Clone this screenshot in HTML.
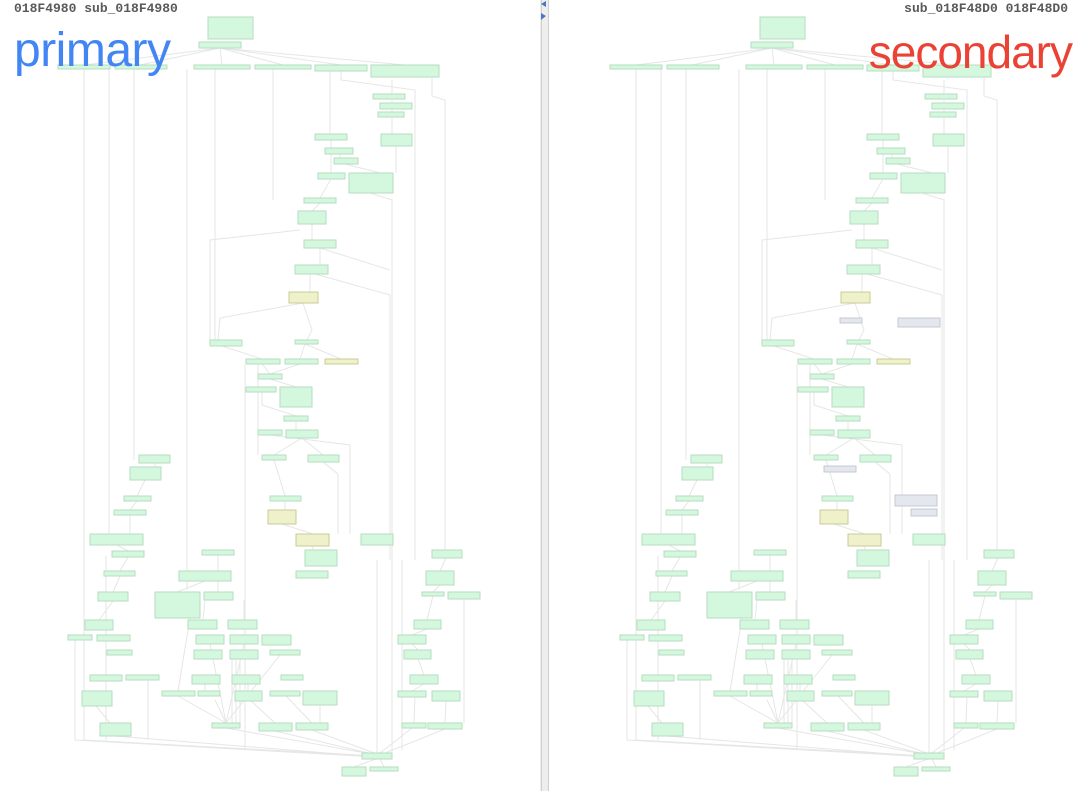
<!DOCTYPE html>
<html><head><meta charset="utf-8"><style>
html,body{margin:0;padding:0;background:#fff;width:1080px;height:791px;overflow:hidden}
.h{position:absolute;font-family:"Liberation Mono",monospace;font-weight:bold;font-size:13px;color:#5a5a5a;top:1px}
.big{position:absolute;font-family:"Liberation Sans",sans-serif;font-size:48px;top:23px;letter-spacing:-0.5px}
</style></head><body>
<svg width="1080" height="791" style="position:absolute;left:0;top:0">
<defs>
<g id="G">
<g stroke="#e6e6e6" stroke-width="1" fill="none">
<path d="M220 48 L84 65 M220 48 L140 65 M220 48 L222 65 M220 48 L283 65 M220 48 L341 65 M220 48 L405 65"/>
<path d="M84 69 V740 L377 756"/>
<path d="M109 69 V540 M134 69 L134 460 M187 69 V590 M215 69 V340"/>
<path d="M273 69 V200 M330 69 L330 134 M341 70 V80 L415 90 L415 560 M432 77 V96 L445 100 V550"/>
<path d="M392 80 V94 M392 100 V134 M396 146 V173 M370 193 L392 200 L392 755"/>
<path d="M331 140 L331 173 M340 154 L340 164 M345 164 L380 173 M331 179 L320 198 M320 203 L312 211 M312 224 V240 M320 248 V265 M310 274 V292"/>
<path d="M320 248 L390 270 M315 274 L390 295 L390 560"/>
<path d="M303 303 L220 318 L218 340 M303 303 L312 330 L307 340 M300 230 L210 240 L210 340"/>
<path d="M222 346 L262 359 M305 344 L300 359 M305 344 L341 359 M262 364 L270 374 M300 364 L270 374 M262 387 V405 L296 416 M270 379 L296 387"/>
<path d="M296 421 V430 M270 435 L350 445 L350 534 M302 438 L274 455 M302 438 L323 455 M323 462 L338 474 V534"/>
<path d="M245 365 V750 M258 360 L258 455 M274 460 L285 496 M285 501 V510 M282 524 L313 534 M313 546 V550"/>
<path d="M155 463 V467 M145 480 L137 496 M137 501 L130 510 M130 515 V534 M117 545 L128 551 M128 557 L120 571 M120 576 L113 592 M113 601 L99 620"/>
<path d="M218 555 V571 M205 581 L177 592 M218 581 L218 592 M190 618 L178 691 M205 600 L203 620 M244 600 L244 620"/>
<path d="M446 558 L440 571 M440 585 L433 592 M464 599 V723 M433 596 L427 620 M427 629 L412 635 M412 644 L418 650 M418 659 L424 675 M424 684 L412 691"/>
<path d="M377 560 V753 M402 560 V750"/>
<path d="M96 706 L110 723 M115 736 L377 757 M226 728 L377 755 M275 731 L377 755 M312 730 L377 754 M412 728 L380 753 M445 729 L385 753"/>
<path d="M210 644 L226 723 M244 644 L226 723 M215 700 L226 723 M232 659 V723 M236 659 V723 M240 659 V723 M178 696 L226 723 M280 655 L226 723"/>
<path d="M205 684 V691 M248 684 L248 691 M250 700 L275 723 M286 696 L312 723 M320 705 V723 M415 697 L414 723 M446 700 L445 723 M376 759 L354 767 M380 759 L384 767"/>
<path d="M75 640 V740 L377 757 M106 556 V740 M148 680 V740"/>
</g>
<g fill="#d4f8de" stroke="#b6dcc1" stroke-width="1">
<rect x="208" y="17" width="45" height="22"/><rect x="199" y="42" width="42" height="6"/>
<rect x="58" y="65" width="52" height="4"/><rect x="115" y="65" width="52" height="4"/><rect x="194" y="65" width="56" height="4"/><rect x="255" y="65" width="56" height="4"/><rect x="315" y="65" width="52" height="6"/><rect x="371" y="65" width="68" height="12"/>
<rect x="373" y="94" width="32" height="5"/><rect x="380" y="103" width="32" height="6"/><rect x="378" y="112" width="26" height="5"/>
<rect x="315" y="134" width="32" height="6"/><rect x="381" y="134" width="31" height="12"/>
<rect x="325" y="148" width="28" height="6"/><rect x="334" y="158" width="24" height="6"/>
<rect x="318" y="173" width="27" height="6"/><rect x="349" y="173" width="44" height="20"/>
<rect x="304" y="198" width="32" height="5"/><rect x="298" y="211" width="28" height="13"/>
<rect x="304" y="240" width="32" height="8"/><rect x="295" y="265" width="33" height="9"/>
<rect x="295" y="340" width="23" height="4"/><rect x="210" y="340" width="32" height="6"/>
<rect x="246" y="359" width="34" height="5"/><rect x="285" y="359" width="33" height="5"/>
<rect x="258" y="374" width="24" height="5"/><rect x="246" y="387" width="30" height="5"/><rect x="280" y="387" width="32" height="20"/>
<rect x="284" y="416" width="24" height="5"/><rect x="258" y="430" width="24" height="5"/><rect x="286" y="430" width="32" height="8"/>
<rect x="139" y="455" width="31" height="8"/><rect x="262" y="455" width="24" height="5"/><rect x="308" y="455" width="31" height="7"/>
<rect x="130" y="467" width="31" height="13"/><rect x="270" y="496" width="31" height="5"/><rect x="124" y="496" width="27" height="5"/><rect x="114" y="510" width="32" height="5"/>
<rect x="90" y="534" width="53" height="11"/><rect x="361" y="534" width="32" height="11"/>
<rect x="112" y="551" width="32" height="6"/><rect x="202" y="550" width="32" height="5"/><rect x="305" y="550" width="32" height="16"/><rect x="432" y="550" width="30" height="8"/>
<rect x="104" y="571" width="31" height="5"/><rect x="179" y="571" width="52" height="10"/><rect x="296" y="571" width="32" height="7"/><rect x="426" y="571" width="28" height="14"/>
<rect x="98" y="592" width="30" height="9"/><rect x="422" y="592" width="22" height="4"/><rect x="448" y="592" width="32" height="7"/><rect x="155" y="592" width="45" height="26"/><rect x="204" y="592" width="29" height="8"/>
<rect x="85" y="620" width="28" height="10"/><rect x="188" y="620" width="29" height="9"/><rect x="228" y="620" width="29" height="9"/><rect x="414" y="620" width="27" height="9"/>
<rect x="68" y="635" width="24" height="5"/><rect x="97" y="635" width="33" height="6"/><rect x="196" y="635" width="28" height="9"/><rect x="230" y="635" width="28" height="9"/><rect x="262" y="635" width="29" height="10"/><rect x="398" y="635" width="28" height="9"/>
<rect x="107" y="650" width="25" height="5"/><rect x="194" y="650" width="28" height="9"/><rect x="230" y="650" width="28" height="9"/><rect x="270" y="650" width="30" height="5"/><rect x="404" y="650" width="27" height="9"/>
<rect x="90" y="675" width="32" height="6"/><rect x="126" y="675" width="33" height="5"/><rect x="192" y="675" width="28" height="9"/><rect x="232" y="675" width="28" height="9"/><rect x="281" y="675" width="22" height="5"/><rect x="410" y="675" width="28" height="9"/>
<rect x="82" y="691" width="30" height="15"/><rect x="162" y="691" width="33" height="5"/><rect x="198" y="691" width="22" height="5"/><rect x="235" y="691" width="27" height="10"/><rect x="270" y="691" width="30" height="5"/><rect x="303" y="691" width="34" height="14"/><rect x="398" y="691" width="28" height="6"/><rect x="432" y="691" width="28" height="10"/>
<rect x="100" y="723" width="31" height="13"/><rect x="212" y="723" width="28" height="5"/><rect x="259" y="723" width="33" height="8"/><rect x="296" y="723" width="32" height="7"/><rect x="402" y="723" width="24" height="5"/><rect x="428" y="723" width="34" height="6"/>
<rect x="362" y="753" width="30" height="6"/><rect x="342" y="767" width="24" height="9"/><rect x="370" y="767" width="28" height="4"/>
</g>
<g fill="#eef1c9" stroke="#cacb98" stroke-width="1">
<rect x="289" y="292" width="29" height="11"/><rect x="325" y="359" width="33" height="5"/><rect x="268" y="510" width="28" height="14"/><rect x="296" y="534" width="33" height="12"/>
</g>
</g>
</defs>
<use href="#G"/>
<use href="#G" x="552"/>
<g fill="#e4e8ee" stroke="#c4c9d2" stroke-width="1">
<rect x="840" y="318" width="22" height="5"/><rect x="898" y="318" width="42" height="9"/><rect x="824" y="466" width="32" height="6"/><rect x="895" y="495" width="42" height="11"/><rect x="911" y="509" width="26" height="7"/>
</g>
<rect x="540" y="0" width="9" height="791" fill="#eeeeee"/>
<line x1="541.5" y1="0" x2="541.5" y2="791" stroke="#cfcfcf"/>
<line x1="548.5" y1="0" x2="548.5" y2="791" stroke="#cfcfcf"/>
<polygon points="546,1 546,7 541,4" fill="#4a78c8"/>
<polygon points="541,13 541,20 546,16" fill="#4a78c8"/>
</svg>
<div class="h" style="left:14px">018F4980 sub_018F4980</div>
<div class="h" style="right:12px">sub_018F48D0 018F48D0</div>
<div class="big" style="left:14px;color:#4285f4">primary</div>
<div class="big" style="right:8px;top:25px;font-size:46px;letter-spacing:-1px;color:#ea4335">secondary</div>
</body></html>
